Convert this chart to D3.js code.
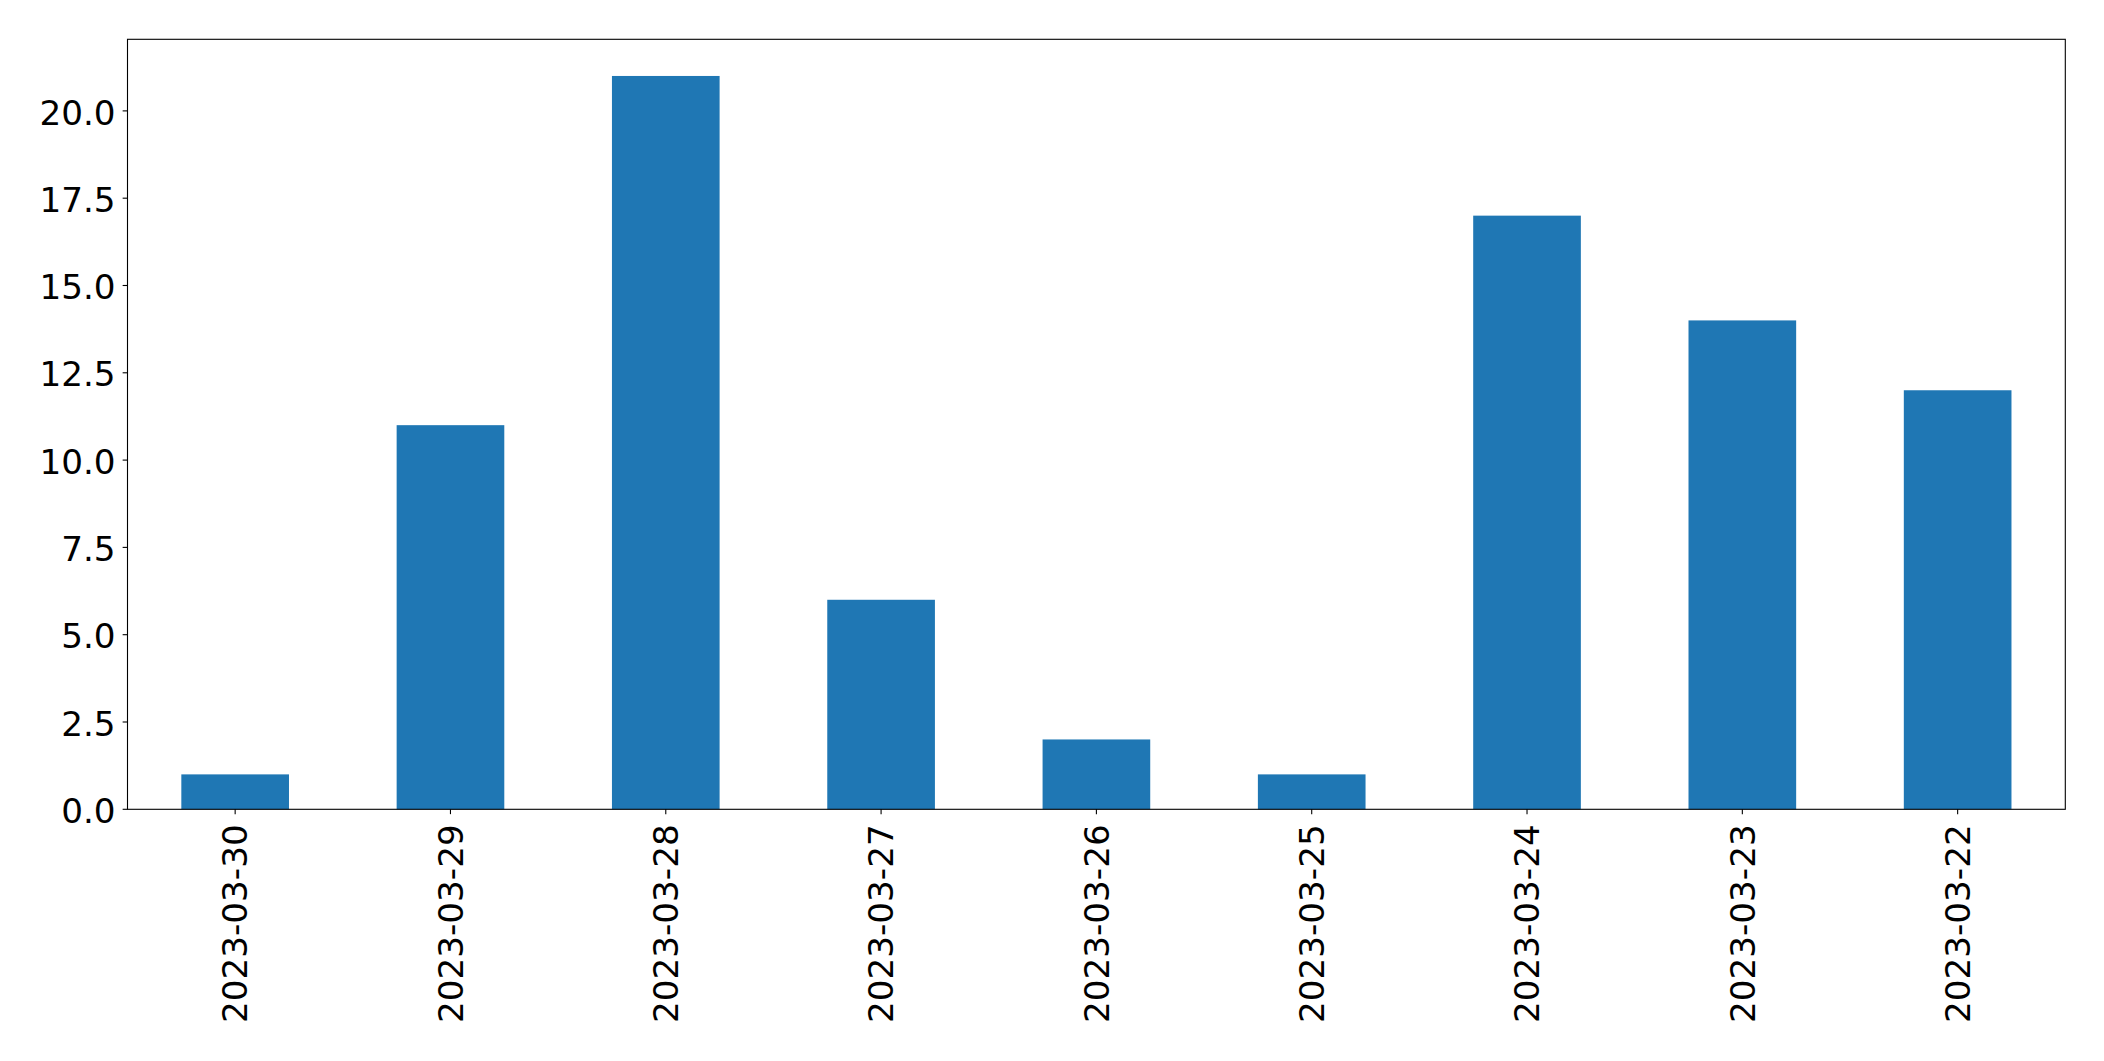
<!DOCTYPE html>
<html><head><meta charset="utf-8">
<script src="https://cdn.jsdelivr.net/npm/d3@7"></script>
<style>html,body{margin:0;padding:0;background:#fff;}svg{display:block;}</style>
</head><body>
<script>
const categories = ["2023-03-30","2023-03-29","2023-03-28","2023-03-27","2023-03-26","2023-03-25","2023-03-24","2023-03-23","2023-03-22"];
const values = [1, 11, 21, 6, 2, 1, 17, 14, 12];
const yTicks = [0, 2.5, 5, 7.5, 10, 12.5, 15, 17.5, 20];

const W = 2104, H = 1061;
const L = 127.5, R = 2065.3, T = 39.3, B = 809.3;
const fs = 34.2, tickLen = 4.86;

const svg = d3.select("body").append("svg").attr("width", W).attr("height", H);

const x = d3.scaleLinear().domain([-0.5, categories.length - 0.5]).range([L, R]);
const y = d3.scaleLinear().domain([0, d3.max(values) * 1.05]).range([B, T]);

svg.append("g").selectAll("rect").data(values).join("rect")
  .attr("x", (d, i) => x(i - 0.25))
  .attr("width", (d, i) => x(i + 0.25) - x(i - 0.25))
  .attr("y", d => y(d))
  .attr("height", d => y(0) - y(d))
  .attr("fill", "#1f77b4");

svg.append("rect").attr("x", L).attr("y", T).attr("width", R - L).attr("height", B - T)
  .attr("fill", "none").attr("stroke", "#000").attr("stroke-width", 1.1);

const yg = svg.append("g").attr("font-family", "DejaVu Sans").attr("font-size", fs);
yTicks.forEach(t => {
  yg.append("line").attr("x1", L - tickLen).attr("x2", L).attr("y1", y(t)).attr("y2", y(t))
    .attr("stroke", "#000").attr("stroke-width", 1.1);
  yg.append("text").attr("x", L - 12).attr("y", y(t)).attr("dy", "0.40em")
    .attr("text-anchor", "end").text(t.toFixed(1));
});

const xg = svg.append("g").attr("font-family", "DejaVu Sans").attr("font-size", fs);
categories.forEach((c, i) => {
  const cx = x(i);
  xg.append("line").attr("x1", cx).attr("x2", cx).attr("y1", B).attr("y2", B + tickLen)
    .attr("stroke", "#000").attr("stroke-width", 1.1);
  xg.append("text").attr("transform", `translate(${cx},${B + 15}) rotate(-90)`)
    .attr("text-anchor", "end").attr("dy", "0.36em").text(c);
});
</script>
</body></html>
